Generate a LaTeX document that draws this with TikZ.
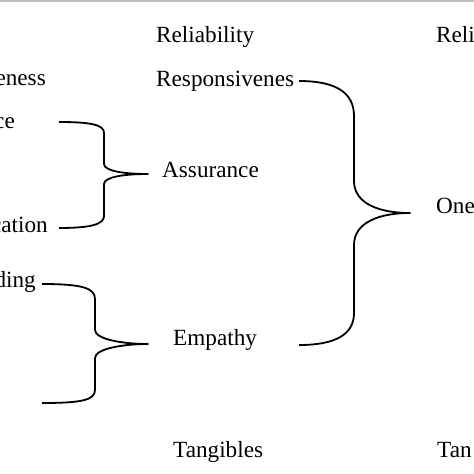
\documentclass[tikz,border=0pt]{standalone}
\usepackage{fontspec}
\setmainfont{Liberation Serif}
\usepackage{tikz}

\begin{document}
\begin{tikzpicture}[
    x=1pt,y=-1pt,
    lbl/.style={inner sep=0pt,font=\fontsize{23.2}{27}\selectfont},
    brc/.style={line width=1.8pt,line join=round}
]
\useasboundingbox (0,0) rectangle (474,474);
\clip (0,0) rectangle (474,474);
\fill[black!25] (0,0) rectangle (474,2);

% left column (cut off)
\node[lbl,anchor=base east] (lresp) at (46,85) {eness};
\node[lbl,anchor=base east] (lcomp) at (15,128) {ce};
\node[lbl,anchor=base east] (lcomm) at (48,232) {cation};
\node[lbl,anchor=base east] (lund) at (36,287) {ding};

% middle column
\node[lbl,anchor=base west] (mrel) at (156,42) {Reliability};
\node[lbl,anchor=base west] (mresp) at (156,86) {Responsivenes};
\node[lbl,anchor=base west] (mass) at (162,177) {Assurance};
\node[lbl,anchor=base west] (memp) at (173,345) {Empathy};
\node[lbl,anchor=base west] (mtan) at (173,457) {Tangibles};

% right column (cut off)
\node[lbl,anchor=base west] (rrel) at (436,42) {Reli};
\node[lbl,anchor=base west] (rone) at (436,213) {One};
\node[lbl,anchor=base west] (rtan) at (437,457) {Tan};

% brace ends
\coordinate (asstop) at (59,122);
\coordinate (asstip) at (148,174);
\coordinate (assbot) at (59,228);
\coordinate (emptop) at (42,284);
\coordinate (emptip) at (148,344);
\coordinate (empbot) at (42,403);
\coordinate (onetop) at (299,81);
\coordinate (onetip) at (410,213);
\coordinate (onebot) at (299,345);

% assurance brace
\draw[brc] (asstop) .. controls (92,122) and (104,125) .. (104,133) -- (104,164)
    .. controls (104,171) and (124,174) .. (asstip)
    .. controls (124,174) and (104,177) .. (104,184) -- (104,216)
    .. controls (104,224) and (92,228) .. (assbot);

% empathy brace
\draw[brc] (emptop) .. controls (82,284) and (95,288) .. (95,299) -- (95,330)
    .. controls (95,339) and (122,344) .. (emptip)
    .. controls (122,344) and (95,349) .. (95,358) -- (95,390)
    .. controls (95,400) and (82,403) .. (empbot);

% big brace
\draw[brc] (onetop) .. controls (338,81) and (354,94) .. (354,116) -- (354,181)
    .. controls (354,204) and (380,213) .. (onetip)
    .. controls (380,213) and (354,222) .. (354,245) -- (354,313)
    .. controls (354,333) and (338,345) .. (onebot);
\end{tikzpicture}
\end{document}
